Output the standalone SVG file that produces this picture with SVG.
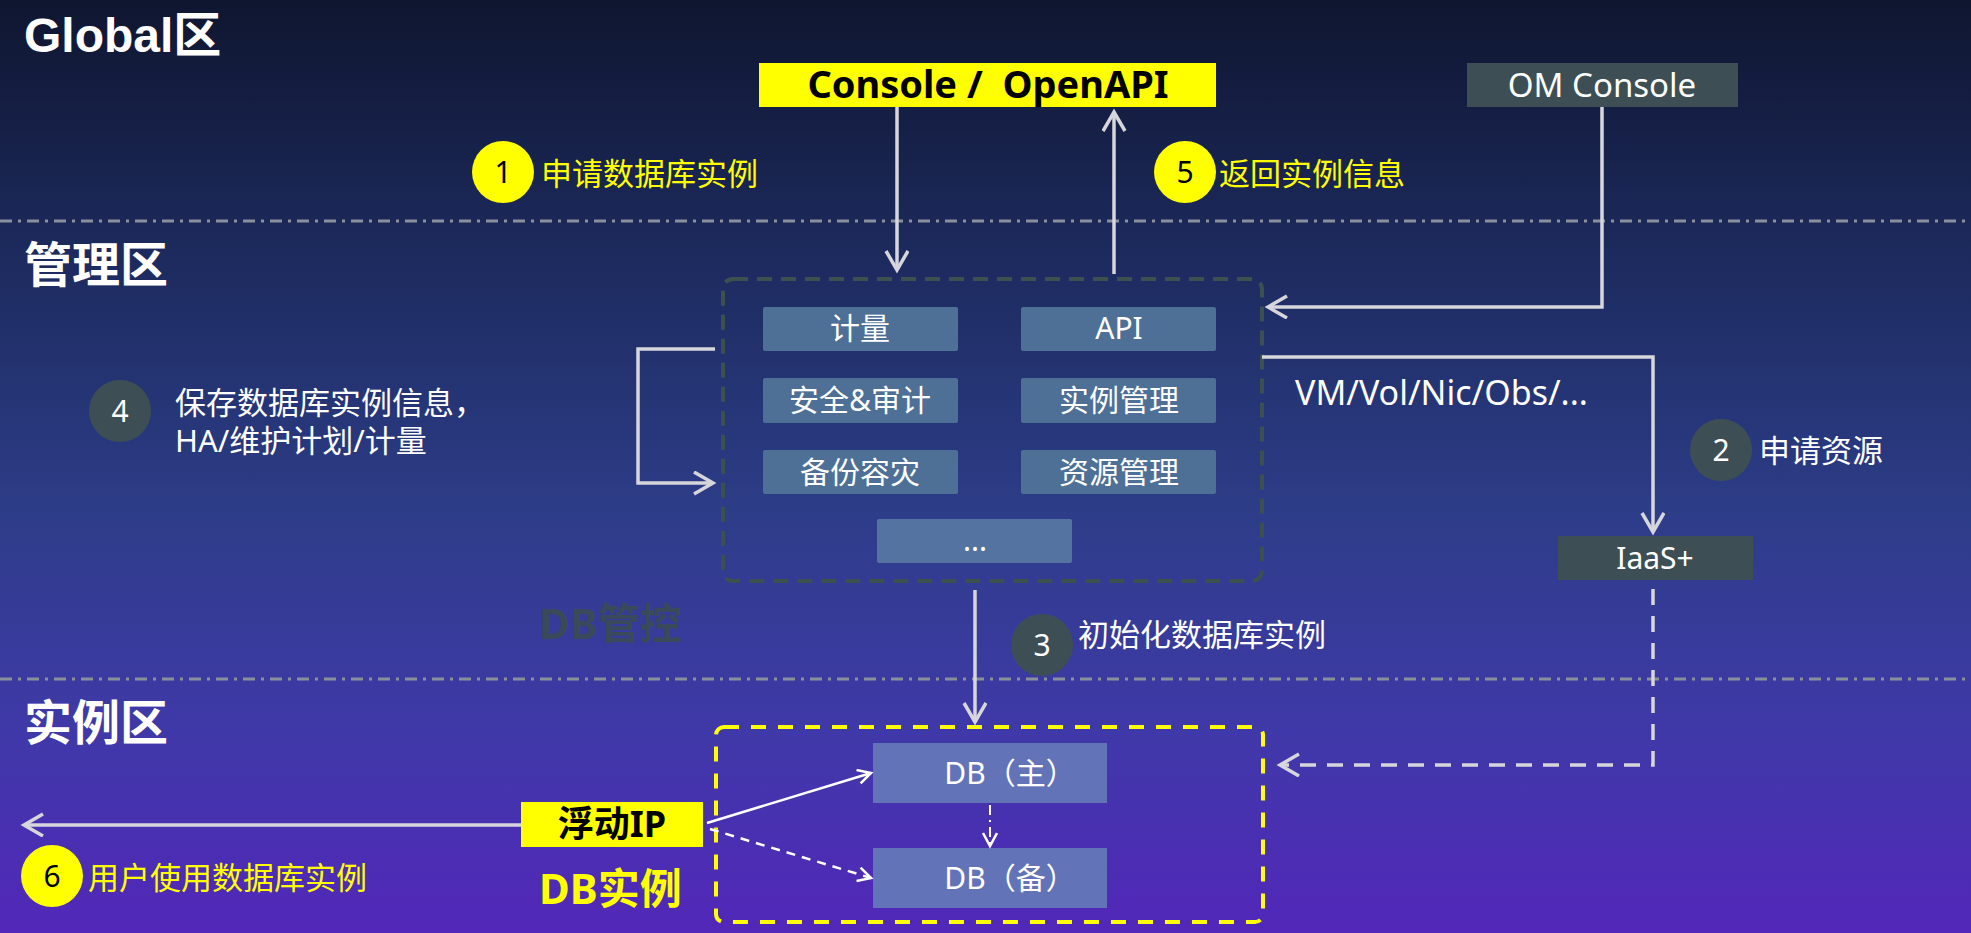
<svg xmlns="http://www.w3.org/2000/svg" width="1971" height="933" viewBox="0 0 1971 933">
<defs>
<linearGradient id="bg" x1="0" y1="0" x2="0" y2="1">
<stop offset="0" stop-color="#0f1630"/>
<stop offset="0.3" stop-color="#1e2c62"/>
<stop offset="0.55" stop-color="#2d3d88"/>
<stop offset="0.78" stop-color="#3f39a8"/>
<stop offset="1" stop-color="#5227b9"/>
</linearGradient>
<marker id="ah" markerUnits="userSpaceOnUse" markerWidth="26" markerHeight="28" refX="21" refY="12" orient="auto" viewBox="0 0 26 28">
<path d="M2,1 L21,12 L2,23" fill="none" stroke="#d6d6dc" stroke-width="3.5"/>
</marker>
<marker id="ahw" markerUnits="userSpaceOnUse" markerWidth="18" markerHeight="18" refX="14" refY="8" orient="auto" viewBox="0 0 18 18">
<path d="M1,1 L14,8 L1,15" fill="none" stroke="#ffffff" stroke-width="2.5"/>
</marker>
</defs>
<style>
.lbl{font-family:"Noto Sans","Noto Sans CJK SC",sans-serif;font-size:31px}
.zone{font-family:"Liberation Sans","Noto Sans CJK SC",sans-serif;font-size:48px;font-weight:bold;fill:#ffffff}
.box{fill:#4e6f96}
.btxt{font-family:"Noto Sans","Noto Sans CJK SC",sans-serif;font-size:30px;fill:#ffffff;text-anchor:middle}
.dark{fill:#3d4f55}
.yel{fill:#ffff00}
.num{font-family:"Noto Sans",sans-serif;font-size:30px;text-anchor:middle}
.conn{fill:none;stroke:#d6d6dc;stroke-width:3.5}
.sep{stroke:#8a8f9c;stroke-width:3;stroke-dasharray:12 6 3 6}
</style>
<rect x="0" y="0" width="1971" height="933" fill="url(#bg)"/>

<g id="zones">
<line class="sep" x1="0" y1="221" x2="1971" y2="221"/>
<line class="sep" x1="0" y1="679" x2="1971" y2="679"/>
<text class="zone" x="24" y="52">Global区</text>
<text class="zone" x="24" y="282">管理区</text>
<text class="zone" x="24" y="740">实例区</text>
</g>

<g id="console">
<rect class="yel" x="759" y="63" width="457" height="44"/>
<text x="988" y="98" font-family="Noto Sans, Noto Sans CJK SC, sans-serif" font-size="38" font-weight="bold" fill="#000000" text-anchor="middle" xml:space="preserve">Console /  OpenAPI</text>
</g>

<g id="om-console">
<rect class="dark" x="1467" y="63" width="271" height="44"/>
<text class="btxt" x="1602" y="97" style="font-size:33px">OM Console</text>
</g>

<g id="db-mgmt">
<rect x="723" y="279" width="539" height="302" rx="10" fill="none" stroke="#3d5050" stroke-width="4" stroke-dasharray="15 9"/>
<text x="539" y="639" font-family="Noto Sans, Noto Sans CJK SC, sans-serif" font-size="42" font-weight="bold" fill="#3a4a5a">DB管控</text>
</g>
<g id="n-metering"><rect class="box" x="763" y="307" width="195" height="44" rx="2"/><text class="btxt" x="860" y="339">计量</text></g>
<g id="n-api"><rect class="box" x="1021" y="307" width="195" height="44" rx="2"/><text class="btxt" x="1119" y="339">API</text></g>
<g id="n-security"><rect class="box" x="763" y="378" width="195" height="45" rx="2"/><text class="btxt" x="860" y="411">安全&amp;审计</text></g>
<g id="n-instmgmt"><rect class="box" x="1021" y="378" width="195" height="45" rx="2"/><text class="btxt" x="1119" y="411">实例管理</text></g>
<g id="n-backup"><rect class="box" x="763" y="450" width="195" height="44" rx="2"/><text class="btxt" x="860" y="483">备份容灾</text></g>
<g id="n-resmgmt"><rect class="box" x="1021" y="450" width="195" height="44" rx="2"/><text class="btxt" x="1119" y="483">资源管理</text></g>
<g id="n-more"><rect x="877" y="519" width="195" height="44" rx="2" fill="#5473a0"/><text class="btxt" x="975" y="551">...</text></g>

<g id="iaas">
<rect class="dark" x="1558" y="536" width="195" height="44"/>
<text class="btxt" x="1655" y="569">IaaS+</text>
</g>

<g id="db-instance">
<rect x="716" y="727" width="547" height="195" rx="8" fill="none" stroke="#ffff00" stroke-width="4" stroke-dasharray="15 12"/>
<text x="539" y="904" font-family="Noto Sans, Noto Sans CJK SC, sans-serif" font-size="42" font-weight="bold" fill="#ffff00">DB实例</text>
</g>
<g id="db-master"><rect x="873" y="743" width="234" height="60" fill="#6373b8"/><text class="btxt" x="1010" y="784">DB（主）</text></g>
<g id="db-standby"><rect x="873" y="848" width="234" height="60" fill="#6373b8"/><text class="btxt" x="1010" y="889">DB（备）</text></g>
<g id="float-ip">
<rect class="yel" x="521" y="802" width="182" height="45"/>
<text x="612" y="837" font-family="Noto Sans, Noto Sans CJK SC, sans-serif" font-size="36" font-weight="bold" fill="#000000" text-anchor="middle">浮动IP</text>
</g>

<g id="connectors">
<path class="conn" d="M897,107 V270" marker-end="url(#ah)"/>
<path class="conn" d="M1114,274 V112" marker-end="url(#ah)"/>
<path class="conn" d="M1602,107 V307 H1268" marker-end="url(#ah)"/>
<path class="conn" d="M1262,357 H1653 V532" marker-end="url(#ah)"/>
<path class="conn" d="M1653,589 V765 H1280" stroke-width="4.5" stroke-dasharray="16 11" marker-end="url(#ah)"/>
<path class="conn" d="M715,349 H638 V483 H713" marker-end="url(#ah)"/>
<path class="conn" d="M975,590 V722" marker-end="url(#ah)"/>
<path class="conn" d="M521,825 H24" marker-end="url(#ah)"/>
<path d="M707,823 L871,773" fill="none" stroke="#ffffff" stroke-width="2.5" marker-end="url(#ahw)"/>
<path d="M710,829 L871,878" fill="none" stroke="#ffffff" stroke-width="2.5" stroke-dasharray="9 7" marker-end="url(#ahw)"/>
<path d="M990,805 V846" fill="none" stroke="#ffffff" stroke-width="2" stroke-dasharray="10 5 2 5" marker-end="url(#ahw)"/>
</g>

<g id="step1"><circle cx="503" cy="172" r="31" class="yel"/><text class="num" x="503" y="183" fill="#000">1</text><text class="lbl" x="541" y="185" fill="#ffff00">申请数据库实例</text></g>
<g id="step5"><circle cx="1185" cy="172" r="31" class="yel"/><text class="num" x="1185" y="183" fill="#000">5</text><text class="lbl" x="1219" y="185" fill="#ffff00">返回实例信息</text></g>
<g id="step2"><circle cx="1721" cy="450" r="31" class="dark"/><text class="num" x="1721" y="461" fill="#fff">2</text><text class="lbl" x="1759" y="462" fill="#fff">申请资源</text></g>
<g id="step4"><circle cx="120" cy="411" r="31" class="dark"/><text class="num" x="120" y="422" fill="#fff">4</text><text class="lbl" x="175" y="414" fill="#fff">保存数据库实例信息，</text><text class="lbl" x="175" y="452" fill="#fff">HA/维护计划/计量</text></g>
<g id="step3"><circle cx="1042" cy="645" r="31" class="dark"/><text class="num" x="1042" y="656" fill="#fff">3</text><text class="lbl" x="1078" y="646" fill="#fff">初始化数据库实例</text></g>
<g id="step6"><circle cx="52" cy="876" r="31" class="yel"/><text class="num" x="52" y="887" fill="#000">6</text><text class="lbl" x="88" y="889" fill="#ffff00">用户使用数据库实例</text></g>
<g id="vm-label"><text class="lbl" x="1295" y="405" fill="#fff" style="font-size:34px">VM/Vol/Nic/Obs/...</text></g>
</svg>
